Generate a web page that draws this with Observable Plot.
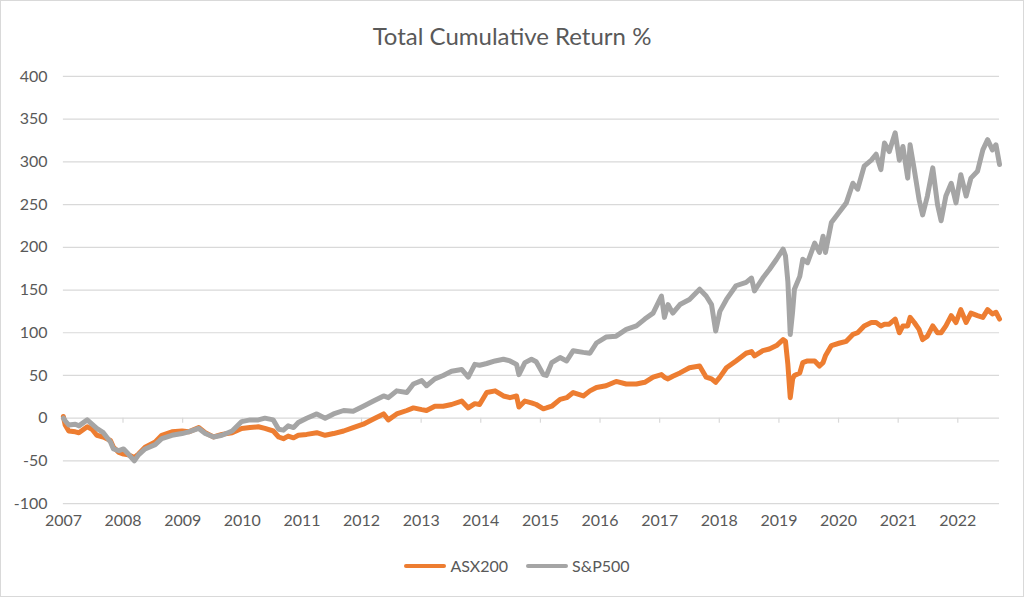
<!DOCTYPE html>
<html>
<head>
<meta charset="utf-8">
<script src="https://cdn.jsdelivr.net/npm/d3@7"></script>
<script src="https://cdn.jsdelivr.net/npm/@observablehq/plot@0.6"></script>
<style>
  html, body { margin: 0; padding: 0; background: #fff; }
  #wrap { position: relative; width: 1024px; height: 597px; box-sizing: border-box; border: 1px solid #d9d9d9; overflow: hidden; font-family: Lato, "Open Sans", sans-serif; color: #595959; background: #fff; }
  #title { height: 49px; box-sizing: border-box; text-align: center; font-size: 24px; line-height: 24px; padding-top: 23px; }
  #chart svg { display: block; margin-left: -1px; }
  #legend { display: flex; justify-content: center; align-items: center; gap: 18px; font-size: 16px; padding-top: 11px; margin-left: 10px; }
  .item { display: flex; align-items: center; }
  .swatch { width: 42px; height: 4px; border-radius: 2px; margin-right: 4px; }
</style>
</head>
<body>
<div id="wrap">
  <div id="title"></div>
  <div id="chart"></div>
  <div id="legend"></div>
</div>
<script>
const titleText = "Total Cumulative Return %";
const seriesNames = ["ASX200", "S&P500"];
const seriesColors = ["#ED7D31", "#A5A5A5"];
const yTicks = [-100, -50, 0, 50, 100, 150, 200, 250, 300, 350, 400];
const xTicks = [2007, 2008, 2009, 2010, 2011, 2012, 2013, 2014, 2015, 2016, 2017, 2018, 2019, 2020, 2021, 2022];

const times = [
  2007.00, 2007.03, 2007.09, 2007.20, 2007.26, 2007.40, 2007.48, 2007.56, 2007.67, 2007.79,
  2007.84, 2007.93, 2008.01, 2008.09, 2008.19, 2008.26, 2008.37, 2008.54, 2008.65, 2008.82,
  2008.99, 2009.10, 2009.27, 2009.38, 2009.52, 2009.66, 2009.83, 2009.99,
  2010.13, 2010.27, 2010.38, 2010.52, 2010.61, 2010.69, 2010.77, 2010.86, 2010.94, 2011.08,
  2011.25, 2011.39, 2011.53, 2011.70, 2011.86, 2012.03, 2012.20, 2012.37, 2012.45, 2012.59,
  2012.76, 2012.87, 2013.01,
  2013.09, 2013.23, 2013.37, 2013.51, 2013.68, 2013.79, 2013.90, 2013.98, 2014.10, 2014.24,
  2014.38, 2014.49, 2014.60, 2014.64, 2014.74, 2014.85, 2014.93, 2015.05, 2015.10, 2015.19,
  2015.33, 2015.44, 2015.55, 2015.72, 2015.83, 2015.94,
  2016.10, 2016.27, 2016.44, 2016.61, 2016.75, 2016.89, 2017.03, 2017.08, 2017.14, 2017.22,
  2017.34, 2017.50, 2017.67, 2017.78, 2017.87, 2017.94, 2018.01, 2018.12, 2018.28, 2018.45,
  2018.54, 2018.59, 2018.73, 2018.84, 2018.96, 2019.07, 2019.11, 2019.15, 2019.19, 2019.23,
  2019.26, 2019.35, 2019.40, 2019.48, 2019.60, 2019.68, 2019.74, 2019.78, 2019.88, 2020.02,
  2020.13, 2020.24, 2020.32, 2020.43, 2020.55, 2020.63, 2020.71, 2020.77, 2020.85, 2020.95,
  2021.02, 2021.08, 2021.16, 2021.20, 2021.27, 2021.35, 2021.41, 2021.49, 2021.58, 2021.66,
  2021.72, 2021.80, 2021.89, 2021.97, 2022.05, 2022.14, 2022.22, 2022.33, 2022.42, 2022.50,
  2022.58, 2022.64, 2022.70
];

const asx200 = [
  2, -8, -15, -16, -17, -10, -13, -20, -22, -26,
  -34, -40, -42, -43, -46, -42, -34, -28, -20, -16,
  -15, -16, -11, -17, -22, -19, -17, -12,
  -11, -10, -12, -15, -22, -24, -21, -23, -20, -19,
  -17, -20, -18, -15, -11, -7, -1, 5, -2, 5,
  9, 12, 10,
  9, 14, 14, 16, 20, 12, 17, 16, 30, 32,
  26, 24, 26, 13, 20, 18, 16, 11, 12, 14,
  22, 24, 30, 26, 32, 36,
  38, 43, 40, 40, 42, 48, 51, 48, 46, 49,
  53, 59, 61, 48, 46, 42, 48, 59, 67, 76,
  78, 73, 79, 81, 85, 92, 90, 63, 24, 46,
  50, 53, 65, 67, 67, 61, 65, 73, 85, 88,
  90, 98, 100, 108, 112, 112, 108, 110, 110, 116,
  100, 108, 108, 118, 112, 104, 92, 96, 108, 100,
  100, 108, 120, 112, 127, 112, 123, 120, 118, 127,
  122, 124, 116
];

const sp500 = [
  0, -3, -8, -7, -9, -2, -7, -12, -17, -28,
  -36, -38, -36, -42, -50, -43, -36, -31, -24, -20,
  -18, -16, -12, -18, -22, -20, -15, -4,
  -2, -2, 0, -2, -13, -14, -9, -11, -5, 0,
  5, 0, 5, 9, 8, 14, 20, 26, 24, 32,
  30, 40, 44,
  38, 46, 50, 55, 57, 48, 63, 62, 64, 67,
  69, 67, 63, 51, 65, 69, 66, 51, 50, 65,
  71, 67, 79, 77, 76, 88,
  95, 96, 104, 108, 116, 123, 143, 118, 133, 123,
  133, 139, 151, 143, 133, 102, 125, 139, 155, 159,
  164, 149, 164, 174, 186, 198, 190, 160, 98, 125,
  151, 166, 186, 182, 205, 194, 213, 194, 229, 242,
  252, 275, 268, 295, 302, 309, 291, 322, 312, 334,
  302, 318, 281, 320, 291, 256, 238, 260, 293, 250,
  231, 260, 275, 252, 285, 260, 281, 289, 314, 326,
  314, 320, 297
];

const rows = [];
[asx200, sp500].forEach((vals, k) => {
  vals.forEach((v, i) => rows.push({series: seriesNames[k], t: times[i], v}));
});

document.getElementById("title").textContent = titleText;

const chart = Plot.plot({
  width: 1024,
  height: 496,
  marginLeft: 63,
  marginRight: 23,
  marginTop: 26,
  marginBottom: 42,
  style: {fontFamily: "Lato, 'Open Sans', sans-serif", fontSize: "16px", color: "#595959", background: "#fff"},
  x: {domain: [2007, 2022.7], axis: null, label: null},
  y: {domain: [-100, 400], axis: null, label: null},
  color: {domain: seriesNames, range: seriesColors},
  marks: [
    Plot.ruleY(yTicks, {stroke: "#d9d9d9", strokeWidth: 1.2}),
    Plot.ruleX(xTicks, {x: d => d, y1: d => 0, y2: d => 0, insetBottom: -5, stroke: "#d9d9d9", strokeWidth: 1.2}),
    Plot.axisY(yTicks, {label: null, tickSize: 0, tickPadding: 16, fontSize: 16, fill: "#595959", tickFormat: d => String(d)}),
    Plot.axisX(xTicks, {label: null, tickSize: 0, tickPadding: 11, fontSize: 16, fill: "#595959", tickFormat: d => String(d)}),
    Plot.line(rows, {x: "t", y: "v", z: "series", stroke: "series", strokeWidth: 5, strokeLinejoin: "round", strokeLinecap: "round"})
  ]
});
document.getElementById("chart").appendChild(chart);

const legend = document.getElementById("legend");
seriesNames.forEach((name, i) => {
  const item = document.createElement("div");
  item.className = "item";
  const sw = document.createElement("div");
  sw.className = "swatch";
  sw.style.background = seriesColors[i];
  const label = document.createElement("span");
  label.textContent = name;
  item.appendChild(sw);
  item.appendChild(label);
  legend.appendChild(item);
});
</script>
</body>
</html>
